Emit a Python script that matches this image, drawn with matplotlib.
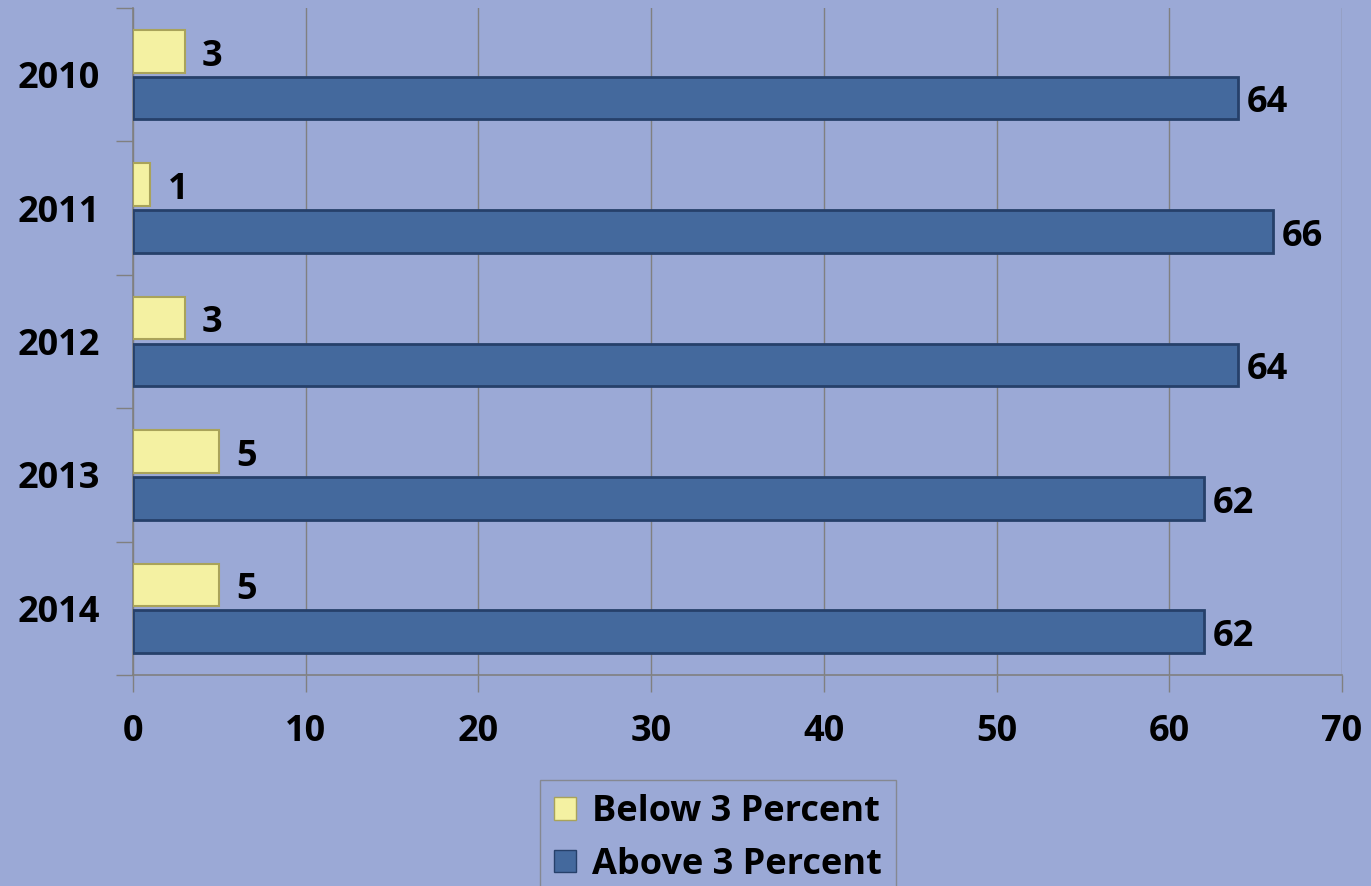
import matplotlib.pyplot as plt
from matplotlib.patches import Patch
import numpy as np

years = ["2010", "2011", "2012", "2013", "2014"]
below = [3, 1, 3, 5, 5]
above = [64, 66, 64, 62, 62]
series_names = ["Below 3 Percent", "Above 3 Percent"]

bg = "#9BA9D6"
yellow, yellow_edge = "#F4F1A2", "#A9A35A"
blue, blue_edge = "#44699D", "#26406A"

plt.rcParams['font.family'] = ['Open Sans', 'DejaVu Sans']
plt.rcParams['font.weight'] = 'bold'
fs = 26

fig = plt.figure(figsize=(13.71, 8.86), dpi=100, facecolor=bg)
ax = fig.add_axes([133 / 1371, 1 - 675 / 886, 1209 / 1371, 667 / 886])
ax.set_facecolor(bg)

y = np.arange(len(years))
h = 0.32
off = 0.175

ax.barh(y - off, below, height=h, color=yellow, edgecolor=yellow_edge, linewidth=1.5, zorder=3)
ax.barh(y + off, above, height=h, color=blue, edgecolor=blue_edge, linewidth=2, zorder=3)

for yi, v in zip(y, below):
    ax.text(v + 1.0, yi - off + 0.04, str(v), va="center", ha="left", fontsize=fs, fontweight="bold")
for yi, v in zip(y, above):
    ax.text(v + 0.5, yi + off + 0.04, str(v), va="center", ha="left", fontsize=fs, fontweight="bold")

ax.set_xlim(0, 70)
ax.set_ylim(len(years) - 0.5, -0.5)
ax.set_xticks(np.arange(0, 71, 10))
ax.set_yticks(y)
ax.set_yticklabels(years)
ax.set_yticks(np.arange(-0.5, len(years)), minor=True)

ax.tick_params(axis="x", length=12, width=1, color="#808080", pad=16, labelsize=fs)
ax.tick_params(axis="y", which="major", length=0, pad=24, labelsize=fs)
ax.tick_params(axis="y", which="minor", length=12, width=1, color="#808080")
ax.grid(axis="x", color="#808080", linewidth=1, zorder=0)

for s in ["top", "right"]:
    ax.spines[s].set_visible(False)
for s in ["left", "bottom"]:
    ax.spines[s].set_color("#808080")
    ax.spines[s].set_linewidth(1.2)

handles = [Patch(facecolor=yellow, edgecolor=yellow_edge),
           Patch(facecolor=blue, edgecolor=blue_edge)]
leg = fig.legend(handles, series_names, loc="upper center", bbox_to_anchor=(718 / 1371, 1 - 780 / 886),
                 frameon=True, fancybox=False, fontsize=fs, handlelength=0.6, handleheight=0.6,
                 handletextpad=0.45, borderpad=0.4, labelspacing=0.45, borderaxespad=0)
leg.get_frame().set_facecolor(bg)
leg.get_frame().set_edgecolor("#808080")
for t in leg.get_texts():
    t.set_fontweight("bold")

fig.savefig("out.png", dpi=100, facecolor=bg)
